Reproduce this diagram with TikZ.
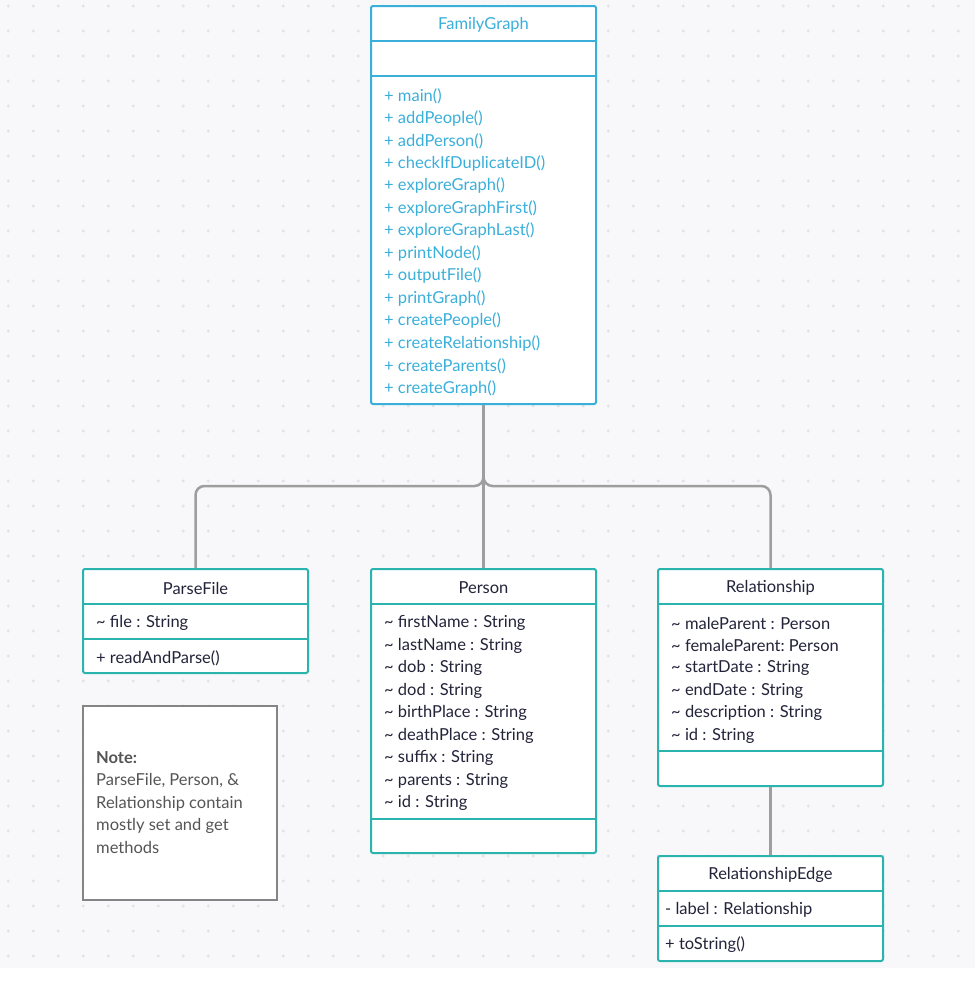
\documentclass[tikz,border=0pt]{standalone}
\usepackage{fontspec}
\setmainfont{Lato}
\definecolor{canvas}{HTML}{F8F8FA}
\definecolor{griddot}{HTML}{E2E2E6}
\definecolor{fgblue}{HTML}{3AAFDA}
\definecolor{teal}{HTML}{2BB3AD}
\definecolor{ink}{HTML}{23233A}
\definecolor{wire}{HTML}{9E9E9E}
\definecolor{notegray}{HTML}{858585}
\definecolor{notetext}{HTML}{555555}
\begin{document}
\begin{tikzpicture}[x=1pt,y=-1pt,
  classbox/.style={draw=teal,line width=2pt,fill=white,rounded corners=2pt,inner sep=0pt},
  mainbox/.style={classbox,draw=fgblue},
  divider/.style={draw=teal,line width=2pt},
  maindiv/.style={draw=fgblue,line width=2pt},
  title/.style={font=\fontsize{16.5}{19}\selectfont,text=ink,inner sep=0pt},
  member/.style={font=\fontsize{16.5}{19}\selectfont,text=ink,anchor=west,inner sep=0pt},
  conn/.style={draw=wire,line width=2.5pt,rounded corners=9pt},
  notebox/.style={draw=notegray,line width=2.5pt,fill=white,inner sep=0pt}]

% canvas and dot grid
\useasboundingbox (0,0) rectangle (975,999);
\fill[white] (0,0) rectangle (975,999);
\fill[canvas] (0,0) rectangle (975,968);
\foreach \i in {0,...,38}{
  \foreach \j in {0,...,38}{
    \fill[griddot] ({8.33+25*\i},{6+25*\j}) circle (1.6);
  }
}

% junction of the inheritance tree
\coordinate (jn) at (483.5,486);

% FamilyGraph
\node[mainbox,minimum width=225,minimum height=398] (fg) at (483.5,205) {};
\draw[maindiv] (371,41) -- (596,41);
\draw[maindiv] (371,76) -- (596,76);
\node[title,text=fgblue] (fgt) at (483.5,25) {FamilyGraph};
\foreach \m [count=\k from 0] in {main(),addPeople(),addPerson(),checkIfDuplicateID(),exploreGraph(),exploreGraphFirst(),exploreGraphLast(),printNode(),outputFile(),printGraph(),createPeople(),createRelationship(),createParents(),createGraph()}{
  \node[member,text=fgblue] (fgm\k) at (384,{96+22.5*\k}) {+ \m};
}

% ParseFile
\node[classbox,minimum width=225,minimum height=104] (pf) at (195.5,621) {};
\draw[divider] (83,604) -- (308,604);
\draw[divider] (83,639) -- (308,639);
\node[title] (pft) at (195.5,588) {ParseFile};
\node[member] (pf1) at (96,623) {\textasciitilde{} file : String};
\node[member] (pf2) at (96,658) {+ readAndParse()};

% Person
\node[classbox,minimum width=225,minimum height=284] (pe) at (483.5,711) {};
\draw[divider] (371,604) -- (596,604);
\draw[divider] (371,819) -- (596,819);
\node[title] (pet) at (483.5,588) {Person};
\foreach \m [count=\k from 0] in {firstName : String,lastName : String,dob : String,dod : String,birthPlace : String,deathPlace : String,suffix : String,parents : String,id : String}{
  \node[member] (pem\k) at (384,{623+22.5*\k}) {\textasciitilde{} \m};
}

% Relationship
\node[classbox,minimum width=225,minimum height=217] (rl) at (770.5,677.5) {};
\draw[divider] (658,604) -- (883,604);
\draw[divider] (658,751) -- (883,751);
\node[title] (rlt) at (770.5,588) {Relationship};
\foreach \m [count=\k from 0] in {maleParent : Person,femaleParent:\ Person,startDate : String,endDate : String,description : String,id : String}{
  \node[member] (rlm\k) at (671,{623+22.5*\k}) {\textasciitilde{} \m};
}

% RelationshipEdge
\node[classbox,minimum width=225,minimum height=105] (re) at (770.5,908.5) {};
\draw[divider] (658,891) -- (883,891);
\draw[divider] (658,926) -- (883,926);
\node[title] (ret) at (770.5,875) {RelationshipEdge};
\node[member] (re1) at (665,910) {- label : Relationship};
\node[member] (re2) at (665,945) {+ toString()};

% note
\node[notebox,minimum width=194,minimum height=194] (nt) at (180,803) {};
\node[anchor=north west,inner sep=0pt,align=left,text=notetext,
      font=\fontsize{16.5}{22.5}\selectfont] (ntx) at (96,751)
  {{\bfseries Note:}\\ParseFile, Person, \&\\Relationship contain\\mostly set and get\\methods};

% connectors
\draw[conn] (fg.south) -- (jn) -- (pf.north |- jn) -- (pf.north);
\draw[conn] (fg.south) -- (jn) -- (rl.north |- jn) -- (rl.north);
\draw[conn,rounded corners=0pt] (fg.south) -- (pe.north);
\draw[conn,rounded corners=0pt] (rl.south) -- (re.north);
\end{tikzpicture}
\end{document}
